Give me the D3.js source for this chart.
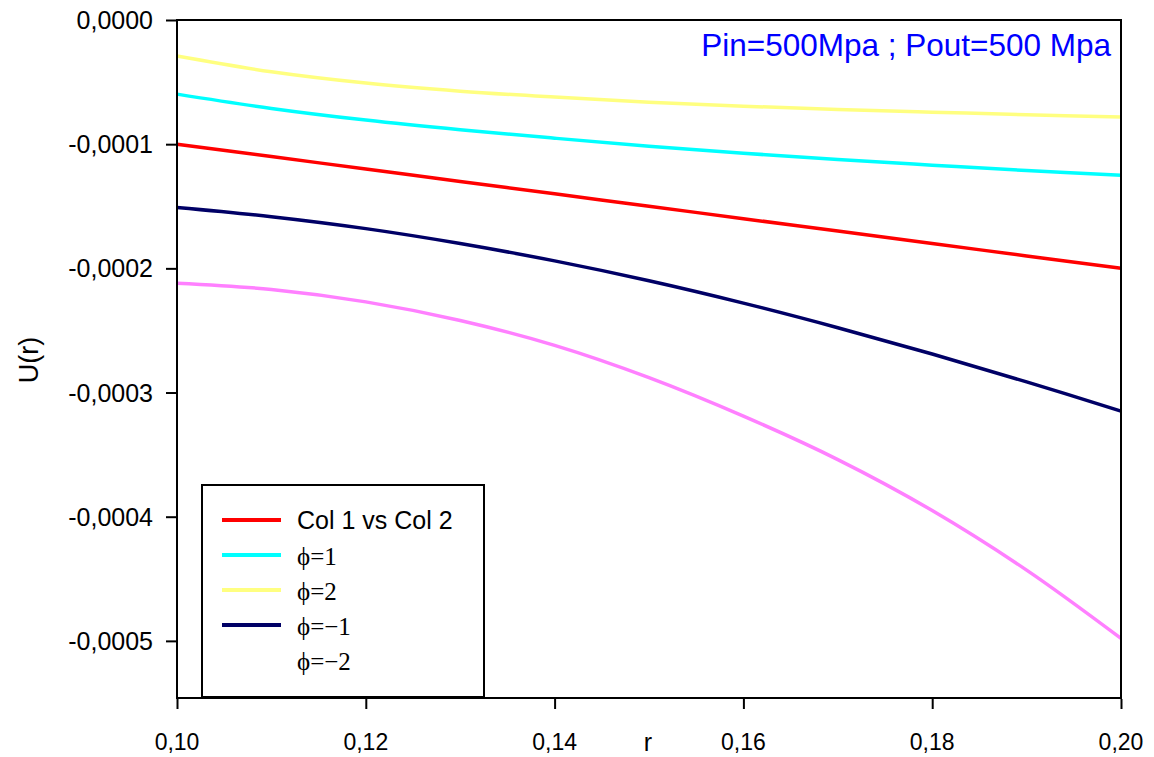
<!DOCTYPE html>
<html>
<head>
<meta charset="utf-8">
<script src="https://cdn.jsdelivr.net/npm/d3@7"></script>
<style>
  body { margin: 0; background: #fff; }
</style>
</head>
<body>
<div id="VizBox"></div>
<script>
// radius values (x axis)
var rValues = [0.10, 0.11, 0.12, 0.13, 0.14, 0.15, 0.16, 0.17, 0.18, 0.19, 0.20];

// U(r) for each curve
var col1vsCol2 = [-0.000100, -0.000110, -0.000120, -0.000130, -0.000140, -0.000150, -0.000160, -0.000170, -0.000180, -0.000190, -0.000200];
var phiPlus1  = [-0.0000597, -0.0000712, -0.0000806, -0.0000884, -0.0000952, -0.0001016, -0.0001073, -0.0001124, -0.0001169, -0.0001212, -0.0001250];
var phiPlus2  = [-0.0000290, -0.0000417, -0.0000508, -0.0000573, -0.0000621, -0.0000662, -0.0000694, -0.0000720, -0.0000742, -0.0000763, -0.0000782];
var phiMinus1 = [-0.0001510, -0.0001584, -0.0001680, -0.0001800, -0.0001940, -0.0002100, -0.0002280, -0.0002478, -0.0002690, -0.0002914, -0.0003150];
var phiMinus2 = [-0.000212, -0.000217, -0.000227, -0.000242, -0.000262, -0.000288, -0.000319, -0.000354, -0.000395, -0.000443, -0.000498];

var xTicks = [0.10, 0.12, 0.14, 0.16, 0.18, 0.20];
var yTicks = [0, -0.0001, -0.0002, -0.0003, -0.0004, -0.0005];

var series = [
  {name: "Col 1 vs Col 2", values: col1vsCol2, color: "#ff0000", legendLine: true, serif: false},
  {name: "\u03d5=1", values: phiPlus1, color: "#00ffff", legendLine: true, serif: true},
  {name: "\u03d5=2", values: phiPlus2, color: "#ffff80", legendLine: true, serif: true},
  {name: "\u03d5=\u22121", values: phiMinus1, color: "#000066", legendLine: true, serif: true},
  {name: "\u03d5=\u22122", values: phiMinus2, color: "#ff80ff", legendLine: false, serif: true}
];

// set the dimensions and margins of the graph
var margin = {top: 20, right: 33, bottom: 59, left: 177},
    width = 1154 - margin.left - margin.right,
    height = 757 - margin.top - margin.bottom;

var svg = d3.select("#VizBox")
  .append("svg")
    .attr("width", 1154)
    .attr("height", 757)
  .append("g")
    .attr("transform", "translate(" + margin.left + "," + margin.top + ")");

// comma as decimal separator, plain hyphen as minus
var locale = d3.formatLocale({decimal: ",", thousands: ".", grouping: [3], currency: ["", ""], minus: "-"});
var fmtX = locale.format(".2f"),
    fmtY = locale.format(".4f");

var x = d3.scaleLinear()
  .domain([0.10, 0.20])
  .range([0, width]);

var y = d3.scaleLinear()
  .domain([-0.000546, 0])
  .range([height, 0]);

// lines
var line = d3.line()
  .x(function(d) { return x(d.r); })
  .y(function(d) { return y(d.u); })
  .curve(d3.curveCatmullRom.alpha(0.5));

series.forEach(function(s) {
  var pts = rValues.map(function(r, i) { return {r: r, u: s.values[i]}; });
  svg.append("path")
    .datum(pts)
    .attr("fill", "none")
    .attr("stroke", s.color)
    .attr("stroke-width", 3.5)
    .attr("d", line);
});

// frame
svg.append("rect")
  .attr("x", 0).attr("y", 0)
  .attr("width", width).attr("height", height)
  .attr("fill", "none")
  .attr("stroke", "#000")
  .attr("stroke-width", 2);

// X axis: tick marks from the axis, labels drawn by hand at x(value)
var xAxis = svg.append("g")
  .attr("transform", "translate(0," + (height + 1) + ")")
  .call(d3.axisBottom(x).tickValues(xTicks).tickSize(10).tickFormat(""));

svg.append("g")
  .selectAll("text")
  .data(xTicks)
  .enter()
  .append("text")
    .attr("x", function(d) { return x(d); })
    .attr("y", height + 52)
    .attr("text-anchor", "middle")
    .attr("font-family", "Liberation Sans, Arial, sans-serif")
    .attr("font-size", "23px")
    .text(function(d) { return fmtX(d); });

// Y axis
var yAxis = svg.append("g")
  .attr("transform", "translate(-1,0)")
  .call(d3.axisLeft(y).tickValues(yTicks).tickSize(10).tickFormat(""));

svg.append("g")
  .selectAll("text")
  .data(yTicks)
  .enter()
  .append("text")
    .attr("x", -24)
    .attr("y", function(d) { return y(d) + 9; })
    .attr("text-anchor", "end")
    .attr("font-family", "Liberation Sans, Arial, sans-serif")
    .attr("font-size", "25px")
    .text(function(d) { return fmtY(d); });

[xAxis, yAxis].forEach(function(a) {
  a.select(".domain").remove();
  a.selectAll("line").attr("stroke", "#000").attr("stroke-width", 2);
});

// axis titles
svg.append("text")
  .attr("x", 471)
  .attr("y", height + 53)
  .attr("text-anchor", "middle")
  .style("font-family", "Liberation Sans, Arial, sans-serif")
  .style("font-size", "25px")
  .text("r");

svg.append("text")
  .attr("transform", "translate(" + (38 - margin.left) + "," + (360 - margin.top) + ") rotate(-90)")
  .attr("text-anchor", "middle")
  .style("font-family", "Liberation Sans, Arial, sans-serif")
  .style("font-size", "27px")
  .text("U(r)");

// annotation
svg.append("text")
  .attr("x", width - 10)
  .attr("y", 36)
  .attr("text-anchor", "end")
  .attr("fill", "#0000ff")
  .style("font-family", "Liberation Sans, Arial, sans-serif")
  .style("font-size", "31.5px")
  .text("Pin=500Mpa ; Pout=500 Mpa");

// legend
var legend = svg.append("g")
  .attr("transform", "translate(" + (202 - margin.left) + "," + (485 - margin.top) + ")");

legend.append("rect")
  .attr("width", 282)
  .attr("height", 212)
  .attr("fill", "#fff")
  .attr("stroke", "#000")
  .attr("stroke-width", 2);

series.forEach(function(s, i) {
  var yy = 35 + i * 35;
  if (s.legendLine) {
    legend.append("line")
      .attr("x1", 20).attr("x2", 79)
      .attr("y1", yy).attr("y2", yy)
      .attr("stroke", s.color)
      .attr("stroke-width", 4);
  }
  legend.append("text")
    .attr("x", 95)
    .attr("y", yy + (s.serif ? 10 : 9))
    .style("font-family", s.serif ? "Liberation Serif, Times New Roman, serif" : "Liberation Sans, Arial, sans-serif")
    .style("font-size", "25px")
    .text(s.name);
});
</script>
</body>
</html>
